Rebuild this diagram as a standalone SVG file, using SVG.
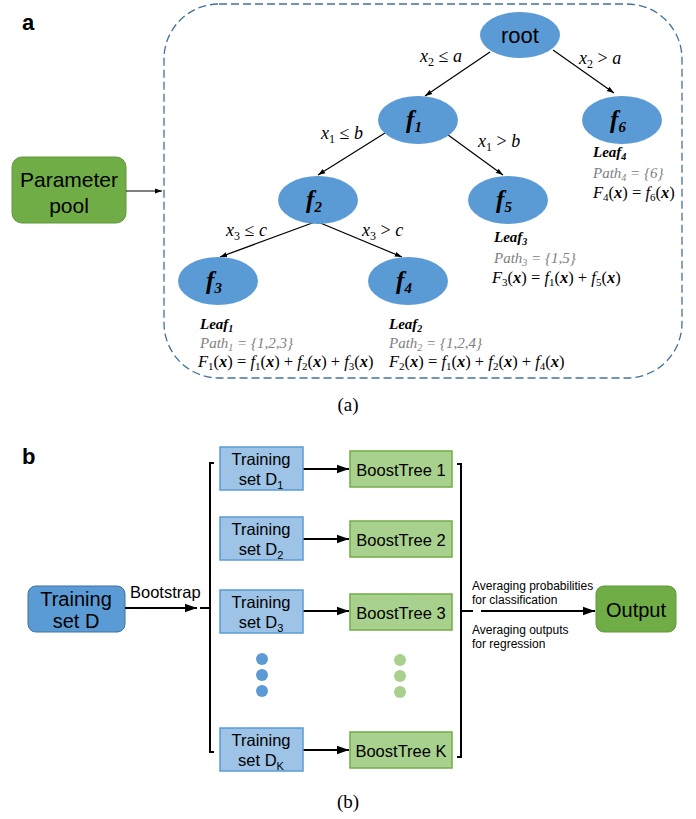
<svg xmlns="http://www.w3.org/2000/svg" width="696" height="819" viewBox="0 0 696 819">
<defs>
<marker id="ah" viewBox="0 0 10 10" refX="10" refY="5" markerWidth="6" markerHeight="6" orient="auto"><path d="M0,1.5 L10,5 L0,8.5 z" fill="#000"/></marker>
<style>
.ell{fill:#5B9BD5;}
.edge{stroke:#000;stroke-width:1.2;fill:none;marker-end:url(#ah);}
.m{font-family:"Liberation Serif",serif;font-size:15px;fill:#000;}
.el{font-family:"Liberation Serif",serif;font-size:18px;fill:#000;}
.fx{font-family:"Liberation Serif",serif;font-size:16.5px;fill:#000;}
.i{font-style:italic;}
.b{font-weight:bold;}
.g{fill:#808080;}
.fn{font-family:"Liberation Serif",serif;font-size:25px;font-weight:bold;font-style:italic;fill:#000;}
.sans{font-family:"Liberation Sans",Arial,sans-serif;fill:#000;}
.tb{fill:#9DC3E6;stroke:#5B9BD5;stroke-width:1.5;}
.bt{fill:#A9D18E;stroke:#70AD47;stroke-width:1.5;}
.ln{stroke:#000;stroke-width:2;fill:none;}
.arr{stroke:#000;stroke-width:2;fill:none;marker-end:url(#ah);}
</style>
</defs>
<rect width="696" height="819" fill="#fff"/>

<!-- Panel a -->
<text x="22" y="30" class="sans" font-size="22" font-weight="bold">a</text>
<rect x="164" y="4" width="518" height="374" rx="55" ry="55" fill="none" stroke="#41719C" stroke-width="1.3" stroke-dasharray="8,4"/>

<g id="param">
<rect x="12" y="157" width="114" height="66" rx="10" fill="#70AD47" stroke="#5E9A3A" stroke-width="1"/>
<text x="69" y="187" class="sans" font-size="21" text-anchor="middle">Parameter</text>
<text x="69" y="213" class="sans" font-size="21" text-anchor="middle">pool</text>
</g>

<g id="connectors-a">
<line x1="126" y1="191" x2="162" y2="191" class="edge"/>
<line x1="490" y1="52" x2="425" y2="96" class="edge"/>
<line x1="553" y1="50" x2="614" y2="93" class="edge"/>
<line x1="385" y1="133" x2="318" y2="175" class="edge"/>
<line x1="444" y1="132" x2="503" y2="175" class="edge"/>
<line x1="315" y1="222" x2="220" y2="257" class="edge"/>
<line x1="318" y1="222" x2="402" y2="257" class="edge"/>
</g>

<g id="edge-labels">
<text x="420" y="62" class="el"><tspan class="i">x</tspan><tspan font-size="12" dy="4">2</tspan><tspan dy="-4"> ≤ </tspan><tspan class="i">a</tspan></text>
<text x="579" y="64" class="el"><tspan class="i">x</tspan><tspan font-size="12" dy="4">2</tspan><tspan dy="-4"> &gt; </tspan><tspan class="i">a</tspan></text>
<text x="321" y="139" class="el"><tspan class="i">x</tspan><tspan font-size="12" dy="4">1</tspan><tspan dy="-4"> ≤ </tspan><tspan class="i">b</tspan></text>
<text x="478" y="147" class="el"><tspan class="i">x</tspan><tspan font-size="12" dy="4">1</tspan><tspan dy="-4"> &gt; </tspan><tspan class="i">b</tspan></text>
<text x="226" y="236" class="el"><tspan class="i">x</tspan><tspan font-size="12" dy="4">3</tspan><tspan dy="-4"> ≤ </tspan><tspan class="i">c</tspan></text>
<text x="362" y="236" class="el"><tspan class="i">x</tspan><tspan font-size="12" dy="4">3</tspan><tspan dy="-4"> &gt; </tspan><tspan class="i">c</tspan></text>
</g>

<g id="root"><ellipse cx="520" cy="35" rx="40" ry="23" class="ell"/><text x="520" y="43" class="sans" font-size="22" text-anchor="middle">root</text></g>
<g id="f1"><ellipse cx="418" cy="120" rx="40" ry="24" class="ell"/><text x="414" y="128" class="fn" text-anchor="middle">f<tspan font-size="15" dy="4">1</tspan></text></g>
<g id="f6"><ellipse cx="622" cy="120" rx="40" ry="24" class="ell"/><text x="618" y="128" class="fn" text-anchor="middle">f<tspan font-size="15" dy="4">6</tspan></text></g>
<g id="f2"><ellipse cx="318" cy="200" rx="40" ry="24" class="ell"/><text x="314" y="208" class="fn" text-anchor="middle">f<tspan font-size="15" dy="4">2</tspan></text></g>
<g id="f5"><ellipse cx="508" cy="200" rx="40" ry="24" class="ell"/><text x="504" y="208" class="fn" text-anchor="middle">f<tspan font-size="15" dy="4">5</tspan></text></g>
<g id="f3"><ellipse cx="218" cy="281" rx="40" ry="24" class="ell"/><text x="214" y="289" class="fn" text-anchor="middle">f<tspan font-size="15" dy="4">3</tspan></text></g>
<g id="f4"><ellipse cx="408" cy="281" rx="40" ry="24" class="ell"/><text x="404" y="289" class="fn" text-anchor="middle">f<tspan font-size="15" dy="4">4</tspan></text></g>

<g id="leaf4">
<text x="593" y="157" class="m b i">Leaf<tspan font-size="10" dy="3">4</tspan></text>
<text x="593" y="178" class="m i g">Path<tspan font-size="10" dy="3">4</tspan><tspan dy="-3"> = {6}</tspan></text>
<text x="593" y="198" class="fx"><tspan class="i">F</tspan><tspan font-size="11" dy="3">4</tspan><tspan dy="-3">(</tspan><tspan class="b i">x</tspan>) = <tspan class="i">f</tspan><tspan font-size="11" dy="3">6</tspan><tspan dy="-3">(</tspan><tspan class="b i">x</tspan>)</text>
</g>
<g id="leaf3">
<text x="494" y="242" class="m b i">Leaf<tspan font-size="10" dy="3">3</tspan></text>
<text x="494" y="263" class="m i g">Path<tspan font-size="10" dy="3">3</tspan><tspan dy="-3"> = {1,5}</tspan></text>
<text x="492" y="283" class="fx"><tspan class="i">F</tspan><tspan font-size="11" dy="3">3</tspan><tspan dy="-3">(</tspan><tspan class="b i">x</tspan>) = <tspan class="i">f</tspan><tspan font-size="11" dy="3">1</tspan><tspan dy="-3">(</tspan><tspan class="b i">x</tspan>) + <tspan class="i">f</tspan><tspan font-size="11" dy="3">5</tspan><tspan dy="-3">(</tspan><tspan class="b i">x</tspan>)</text>
</g>
<g id="leaf1">
<text x="200" y="329" class="m b i">Leaf<tspan font-size="10" dy="3">1</tspan></text>
<text x="200" y="348" class="m i g">Path<tspan font-size="10" dy="3">1</tspan><tspan dy="-3"> = {1,2,3}</tspan></text>
<text x="198" y="367" class="fx"><tspan class="i">F</tspan><tspan font-size="11" dy="3">1</tspan><tspan dy="-3">(</tspan><tspan class="b i">x</tspan>) = <tspan class="i">f</tspan><tspan font-size="11" dy="3">1</tspan><tspan dy="-3">(</tspan><tspan class="b i">x</tspan>) + <tspan class="i">f</tspan><tspan font-size="11" dy="3">2</tspan><tspan dy="-3">(</tspan><tspan class="b i">x</tspan>) + <tspan class="i">f</tspan><tspan font-size="11" dy="3">3</tspan><tspan dy="-3">(</tspan><tspan class="b i">x</tspan>)</text>
</g>
<g id="leaf2">
<text x="389" y="329" class="m b i">Leaf<tspan font-size="10" dy="3">2</tspan></text>
<text x="389" y="348" class="m i g">Path<tspan font-size="10" dy="3">2</tspan><tspan dy="-3"> = {1,2,4}</tspan></text>
<text x="389" y="367" class="fx"><tspan class="i">F</tspan><tspan font-size="11" dy="3">2</tspan><tspan dy="-3">(</tspan><tspan class="b i">x</tspan>) = <tspan class="i">f</tspan><tspan font-size="11" dy="3">1</tspan><tspan dy="-3">(</tspan><tspan class="b i">x</tspan>) + <tspan class="i">f</tspan><tspan font-size="11" dy="3">2</tspan><tspan dy="-3">(</tspan><tspan class="b i">x</tspan>) + <tspan class="i">f</tspan><tspan font-size="11" dy="3">4</tspan><tspan dy="-3">(</tspan><tspan class="b i">x</tspan>)</text>
</g>

<text x="348" y="411" font-family="Liberation Serif,serif" font-size="19" text-anchor="middle">(a)</text>

<!-- Panel b -->
<text x="22" y="464" class="sans" font-size="22" font-weight="bold">b</text>

<g id="trainD">
<rect x="28" y="586" width="97" height="46" rx="8" fill="#5B9BD5" stroke="#41719C" stroke-width="1"/>
<text x="76" y="606" class="sans" font-size="20" text-anchor="middle">Training</text>
<text x="76" y="628" class="sans" font-size="20" text-anchor="middle">set D</text>
</g>
<text x="130" y="598" class="sans" font-size="16.5">Bootstrap</text>

<g id="connectors-b">
<line x1="125" y1="608" x2="197" y2="608" class="arr"/>
<line x1="200" y1="608" x2="210" y2="608" class="ln"/>
<path d="M214,463 L210,463 L210,752 L214,752" class="ln"/>
<line x1="303" y1="469" x2="349" y2="469" class="arr"/>
<line x1="303" y1="539" x2="349" y2="539" class="arr"/>
<line x1="303" y1="611" x2="349" y2="611" class="arr"/>
<line x1="303" y1="750" x2="349" y2="750" class="arr"/>
<path d="M457,464 L461,464 L461,757 L457,757" class="ln"/>
<line x1="461" y1="611" x2="473" y2="611" class="ln"/>
<line x1="481" y1="611" x2="595" y2="611" class="arr"/>
</g>

<g id="D1"><rect x="220" y="447" width="83" height="43" class="tb"/><text x="261" y="465" class="sans" font-size="16.5" text-anchor="middle">Training</text><text x="261" y="485" class="sans" font-size="16.5" text-anchor="middle">set D<tspan font-size="11" dy="4">1</tspan></text></g>
<g id="D2"><rect x="220" y="517" width="83" height="43" class="tb"/><text x="261" y="535" class="sans" font-size="16.5" text-anchor="middle">Training</text><text x="261" y="555" class="sans" font-size="16.5" text-anchor="middle">set D<tspan font-size="11" dy="4">2</tspan></text></g>
<g id="D3"><rect x="220" y="590" width="83" height="43" class="tb"/><text x="261" y="608" class="sans" font-size="16.5" text-anchor="middle">Training</text><text x="261" y="628" class="sans" font-size="16.5" text-anchor="middle">set D<tspan font-size="11" dy="4">3</tspan></text></g>
<g id="DK"><rect x="220" y="728" width="83" height="43" class="tb"/><text x="261" y="746" class="sans" font-size="16.5" text-anchor="middle">Training</text><text x="261" y="766" class="sans" font-size="16.5" text-anchor="middle">set D<tspan font-size="11" dy="4">K</tspan></text></g>

<g id="dots-blue" fill="#5B9BD5"><circle cx="262" cy="659" r="6"/><circle cx="262" cy="675" r="6"/><circle cx="262" cy="691" r="6"/></g>
<g id="dots-green" fill="#A9D18E"><circle cx="400" cy="660" r="6"/><circle cx="400" cy="676" r="6"/><circle cx="400" cy="692" r="6"/></g>

<g id="BT1"><rect x="350" y="451" width="102" height="36" class="bt"/><text x="401" y="476" class="sans" font-size="16.5" text-anchor="middle">BoostTree 1</text></g>
<g id="BT2"><rect x="350" y="521" width="102" height="36" class="bt"/><text x="401" y="546" class="sans" font-size="16.5" text-anchor="middle">BoostTree 2</text></g>
<g id="BT3"><rect x="350" y="594" width="102" height="36" class="bt"/><text x="401" y="619" class="sans" font-size="16.5" text-anchor="middle">BoostTree 3</text></g>
<g id="BTK"><rect x="350" y="732" width="102" height="36" class="bt"/><text x="401" y="757" class="sans" font-size="16.5" text-anchor="middle">BoostTree K</text></g>

<text x="472" y="590" class="sans" font-size="12">Averaging probabilities</text>
<text x="472" y="604" class="sans" font-size="12">for classification</text>
<text x="472" y="634" class="sans" font-size="12">Averaging outputs</text>
<text x="472" y="648" class="sans" font-size="12">for regression</text>

<g id="output">
<rect x="596" y="586" width="80" height="46" rx="8" fill="#70AD47" stroke="#5E9A3A" stroke-width="1"/>
<text x="636" y="617" class="sans" font-size="20" text-anchor="middle">Output</text>
</g>

<text x="348" y="808" font-family="Liberation Serif,serif" font-size="19" text-anchor="middle">(b)</text>
</svg>
